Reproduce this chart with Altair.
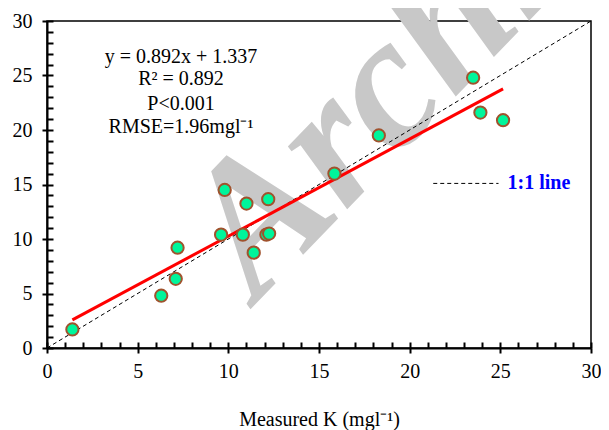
import altair as alt
import pandas as pd

# Data
measured = [1.4, 6.3, 7.1, 7.2, 9.6, 9.8, 10.8, 11.0, 11.4, 12.1, 12.25, 12.2, 15.85, 18.3, 23.5, 23.9, 25.15]
predicted = [1.7, 4.8, 6.35, 9.2, 10.4, 14.5, 10.4, 13.25, 8.75, 10.4, 10.5, 13.65, 16.0, 19.5, 24.8, 21.6, 20.9]
slope = 0.892
intercept = 1.337
one_to_one = [0, 30]
minor_ticks = list(range(0, 31))
major_ticks = [0, 5, 10, 15, 20, 25, 30]
annot_lines = ["y = 0.892x + 1.337", "R² = 0.892", "P<0.001", "RMSE=1.96mgl⁻¹"]
annot_y = [26.7, 24.7, 22.4, 20.3]

W, H = 544, 327
FONT = "Liberation Serif"

pts = pd.DataFrame({"x": measured, "y": predicted})
xmin, xmax = min(measured), max(measured)
fit = pd.DataFrame({"x": [xmin, xmax], "y": [slope * xmin + intercept, slope * xmax + intercept]})
diag = pd.DataFrame({"x": one_to_one, "y": one_to_one})
annot = pd.DataFrame({"t": annot_lines, "y": annot_y})

xs = alt.Scale(domain=[0, 30], nice=False, zero=False)
ys = alt.Scale(domain=[0, 30], nice=False, zero=False)

x_axis = alt.Axis(values=major_ticks, title="Measured K (mgl⁻¹)", labelFlush=False, orient="bottom")
y_axis = alt.Axis(values=major_ticks, title=None, labelFlush=False, orient="left")
x_minor = alt.Axis(values=minor_ticks, title=None, labels=False, domain=False, orient="bottom",
                   offset=-6, tickSize=6, tickWidth=2, tickColor="black")
y_minor = alt.Axis(values=minor_ticks, title=None, labels=False, domain=False, orient="left",
                   offset=-6, tickSize=6, tickWidth=2, tickColor="black")

X = alt.X("x:Q", scale=xs, axis=None)
Y = alt.Y("y:Q", scale=ys, axis=None)

watermark = alt.Chart(pd.DataFrame({"t": ["Archive"], "x": [11.6], "y": [4.2]})).mark_text(
    text="Archive", font=FONT, fontSize=188, fontStyle="italic", fontWeight="bold",
    color="#c8c8c8", angle=314, align="left", baseline="alphabetic"
).encode(x=X, y=Y)

diag_line = alt.Chart(diag).mark_line(color="black", strokeDash=[4, 3], strokeWidth=1).encode(x=X, y=Y)

fit_line = alt.Chart(fit).mark_line(color="#ff0000", strokeWidth=3).encode(x=X, y=Y)

points = alt.Chart(pts).mark_point(filled=True, fill="#00f59b", stroke="#a0522d", strokeWidth=2,
                                   size=150, opacity=1, shape="circle").encode(
    x=alt.X("x:Q", scale=xs, axis=x_axis), y=alt.Y("y:Q", scale=ys, axis=y_axis))

minor_layer = alt.Chart(pts).mark_point(opacity=0).encode(
    x=alt.X("x:Q", scale=xs, axis=x_minor), y=alt.Y("y:Q", scale=ys, axis=y_minor))

annot_text = alt.Chart(annot).mark_text(font=FONT, fontSize=20, color="black", align="center",
                                        baseline="middle").encode(
    x=alt.value(134), y=Y, text="t:N")

legend_line = alt.Chart(pd.DataFrame({"x": [21.3], "x2": [24.9], "y": [15.1]})).mark_rule(
    color="black", strokeDash=[4, 3], strokeWidth=1).encode(x=X, x2="x2:Q", y=Y)
legend_text = alt.Chart(pd.DataFrame({"x": [25.4], "y": [15.1], "t": ["1:1 line"]})).mark_text(
    font=FONT, fontSize=20, fontWeight="bold", color="#0000ff", align="left", baseline="middle").encode(
    x=X, y=Y, text="t:N")

chart = alt.layer(watermark, diag_line, fit_line, points, minor_layer, annot_text,
                  legend_line, legend_text).resolve_axis(x="independent", y="independent").properties(
    width=W, height=H,
    autosize=alt.AutoSizeParams(type="none"),
    padding={"left": 39, "top": 13, "right": 10, "bottom": 82},
).configure(background="white").configure_view(stroke="black", strokeWidth=1.5).configure_axis(
    grid=False, domainColor="black", domainWidth=2,
    tickColor="black", tickWidth=2, tickSize=5, labelFont=FONT, labelFontSize=20,
    labelColor="black", labelPadding=8, titleFont=FONT, titleFontSize=20,
    titleFontWeight="normal", titleColor="black", titlePadding=28
).configure_axisLeft(labelPadding=10)

chart.save("out.html", embed_options={"renderer": "svg", "actions": False})
